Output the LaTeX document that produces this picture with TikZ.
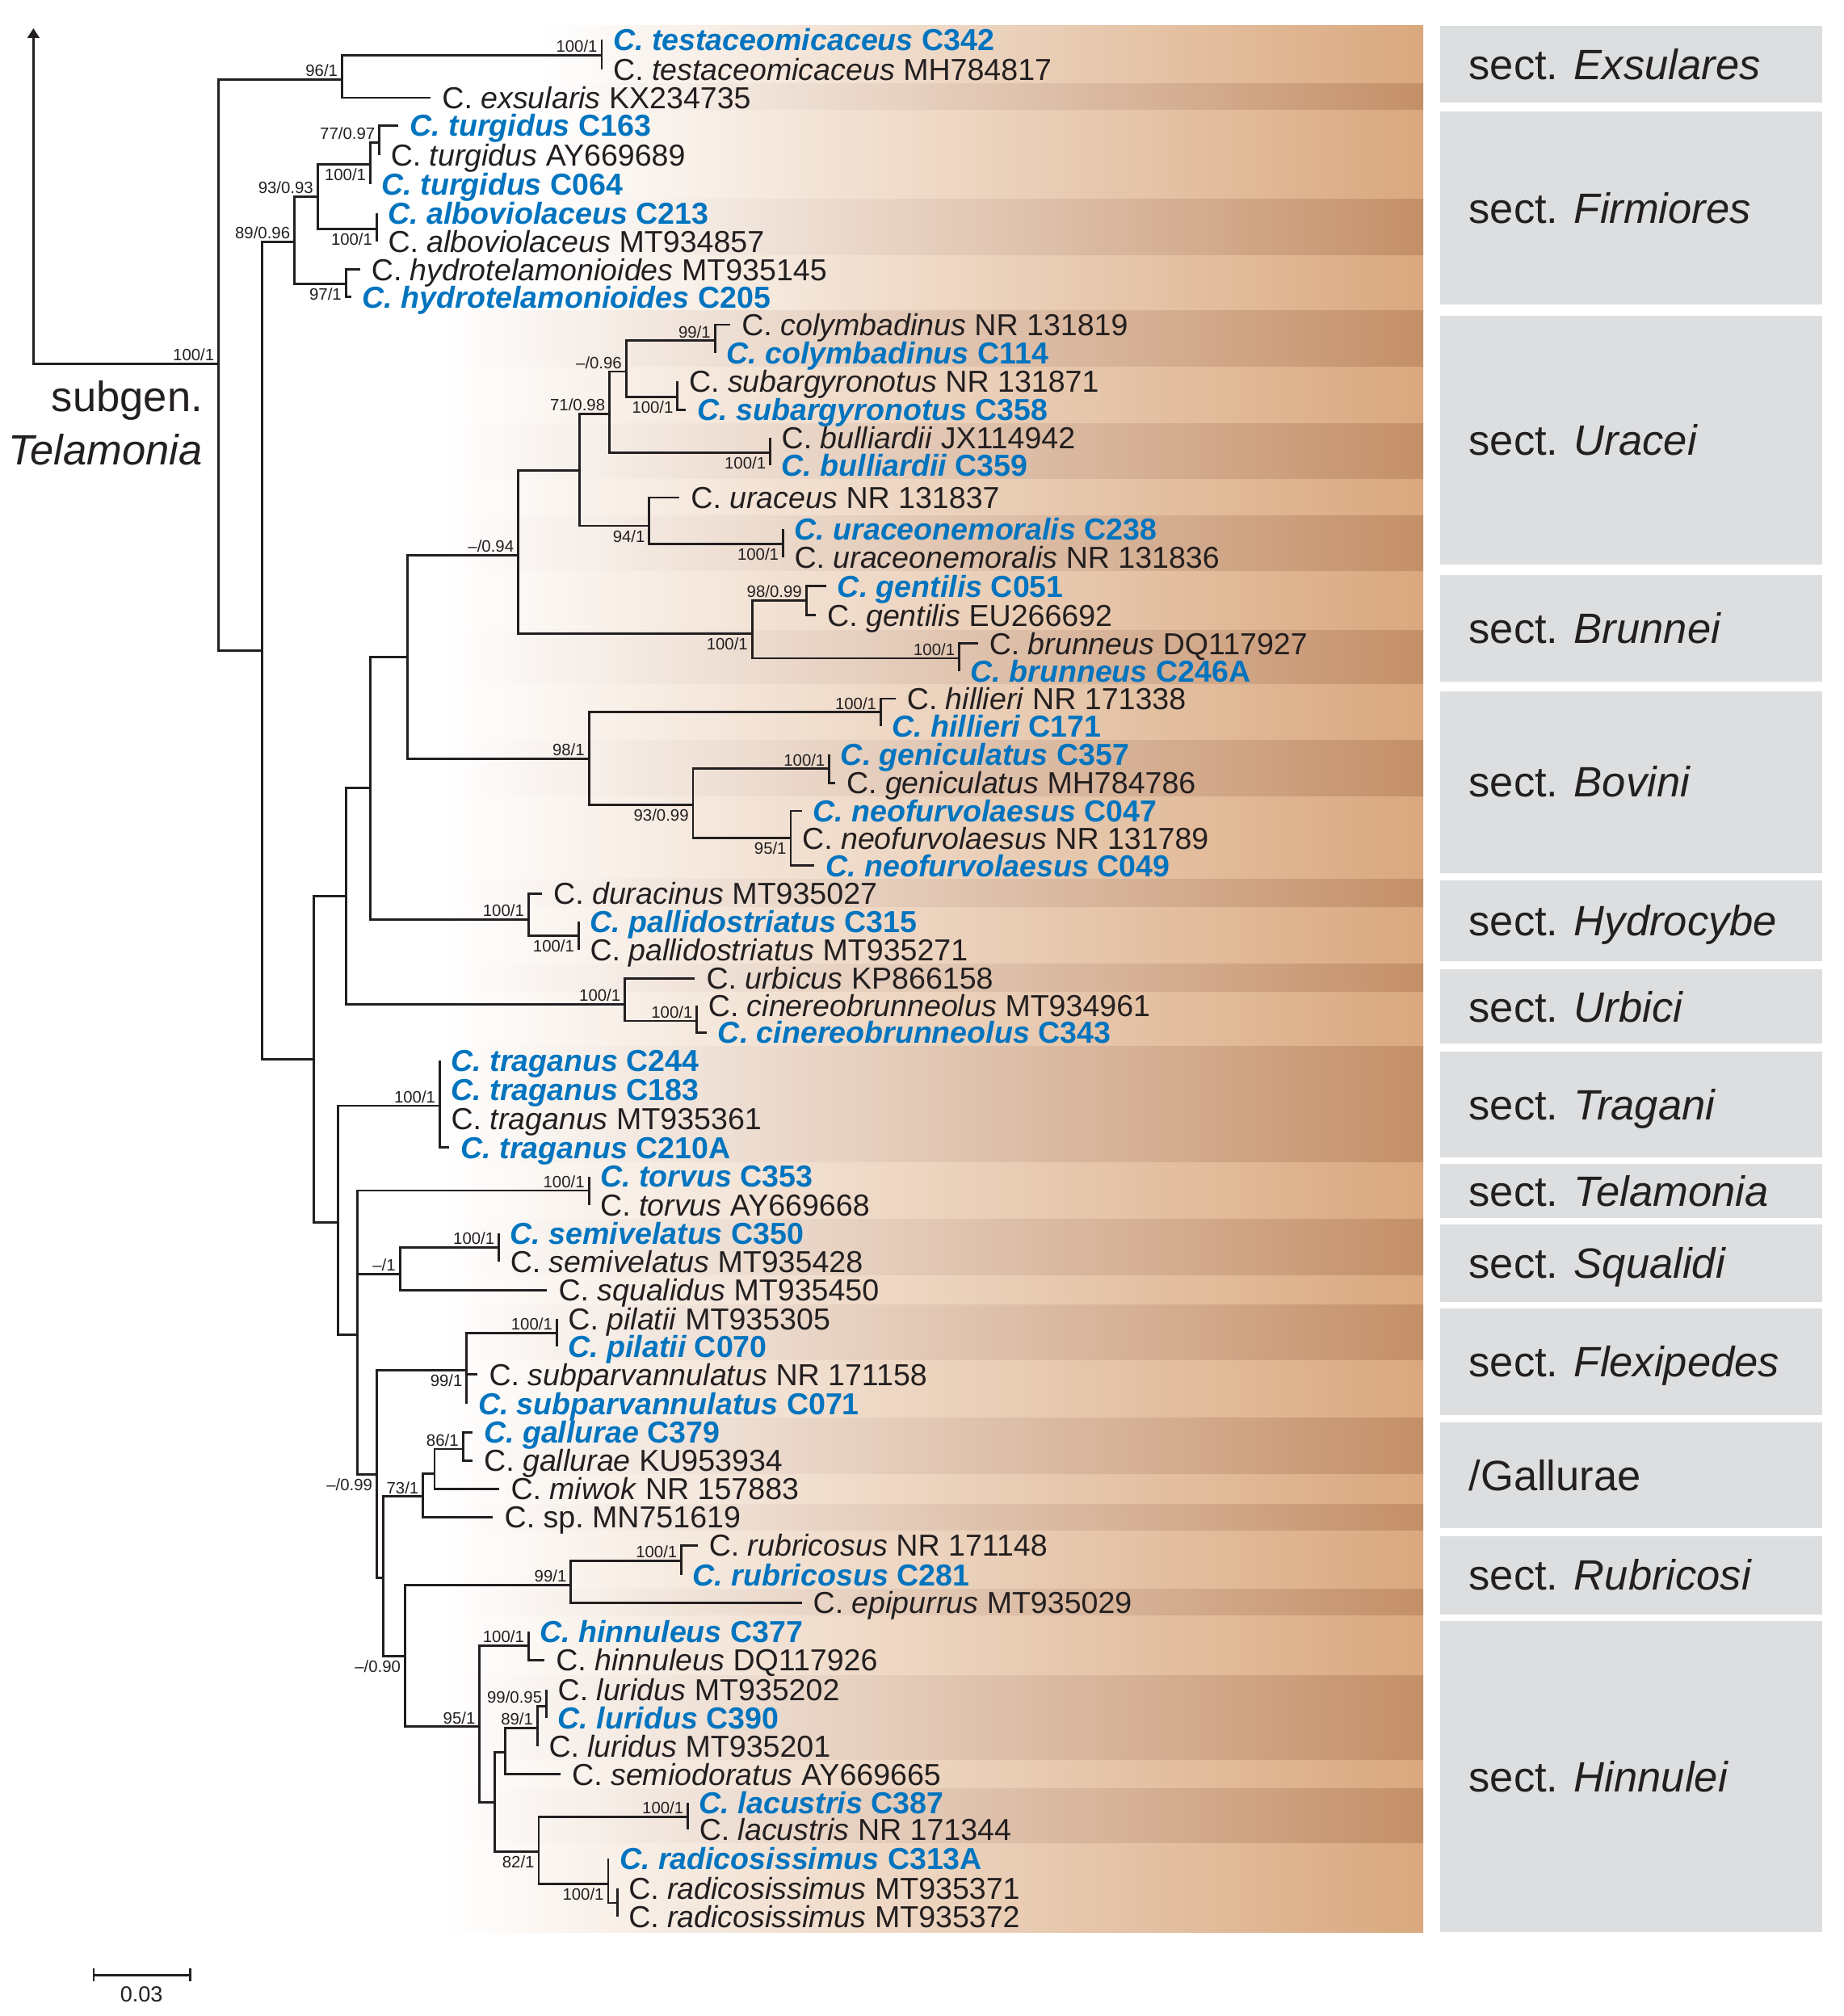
\documentclass[tikz,border=0pt]{standalone}
\usepackage{fontspec}
\setmainfont{Liberation Sans}
\usetikzlibrary{arrows.meta}

\definecolor{ink}{RGB}{35,31,32}
\definecolor{cblue}{RGB}{0,116,191}
\definecolor{bandL}{RGB}{217,168,126}
\definecolor{bandD}{RGB}{196,143,104}
\definecolor{secgray}{RGB}{220,222,224}

% own isolates (blue, bold) and GenBank sequences
\newcommand{\spB}[2]{\textcolor{cblue}{\bfseries\itshape C.~#1 \upshape #2}}
\newcommand{\spK}[2]{C.~\textit{#1} #2}

\tikzset{
  branch/.style={draw=ink, line width=0.9pt},
  tip/.style={anchor=west, inner xsep=4.25pt, inner ysep=0pt, text height=8.45pt, text depth=0pt,
    font=\fontsize{11.8}{13.5}\selectfont, text=ink},
  bsa/.style={anchor=south east, inner sep=0pt, xshift=-1.5pt, yshift=1pt,
    text height=4.6pt, text depth=0pt, font=\fontsize{6.4}{7}\selectfont, text=ink},
  bsb/.style={bsa, anchor=north east, yshift=-2.5pt},
  sect/.style={anchor=west, inner sep=0pt, text height=11.8pt, text depth=0pt,
    font=\fontsize{16.5}{19}\selectfont, text=ink},
}

\begin{document}
\begin{tikzpicture}[x=0.5pt, y=-0.5pt]
  \useasboundingbox (0,0) rectangle (1434,1568);

  % background bands, one per species
  \foreach \ya/\yb/\cc/\xa in {20/65/bandL/420, 65/86/bandD/420, 86/155/bandL/420,
      155/199/bandD/420, 199/241.5/bandL/420, 241.5/285.6/bandD/345, 285.6/329.7/bandL/345,
      329.7/373/bandD/345, 373/400.8/bandL/345, 400.8/444.4/bandD/345, 444.4/490/bandL/345,
      490/532.6/bandD/345, 532.6/576/bandL/345, 576/620/bandD/345, 620/684/bandL/345,
      684/706/bandD/345, 706/750/bandL/345, 750/771.5/bandD/345, 771.5/814/bandL/345,
      814/904/bandD/345, 904/948/bandL/345, 948/992/bandD/345, 992/1015/bandL/345,
      1015/1058/bandD/345, 1058/1103/bandL/345, 1103/1147/bandD/345, 1147/1170/bandL/345,
      1170/1191/bandD/345, 1191/1236/bandL/345, 1236/1257/bandD/345, 1257/1303/bandL/345,
      1303/1369/bandD/345, 1369/1391/bandL/345, 1391/1434/bandD/345, 1434/1503/bandL/345}
    \shade[left color=white, right color=\cc] (\xa,\ya) rectangle (1107,\yb);

  % section boxes
  \fill[secgray] (1120,20) rectangle (1417,80);
  \fill[secgray] (1120,87) rectangle (1417,237);
  \fill[secgray] (1120,245.5) rectangle (1417,439);
  \fill[secgray] (1120,447.4) rectangle (1417,530);
  \fill[secgray] (1120,537.6) rectangle (1417,679);
  \fill[secgray] (1120,685) rectangle (1417,747.5);
  \fill[secgray] (1120,754) rectangle (1417,811.7);
  \fill[secgray] (1120,817.7) rectangle (1417,900);
  \fill[secgray] (1120,905.5) rectangle (1417,947.5);
  \fill[secgray] (1120,952.5) rectangle (1417,1012.4);
  \fill[secgray] (1120,1017.4) rectangle (1417,1100.8);
  \fill[secgray] (1120,1106.3) rectangle (1417,1188.6);
  \fill[secgray] (1120,1194.6) rectangle (1417,1255.5);
  \fill[secgray] (1120,1260.5) rectangle (1417,1502.7);

  \node[sect] (exs) at (1142,50) {sect. \textit{Exsulares}};
  \node[sect] (fir) at (1142,162) {sect. \textit{Firmiores}};
  \node[sect] (ura) at (1142,342) {sect. \textit{Uracei}};
  \node[sect] (bru) at (1142,488.7) {sect. \textit{Brunnei}};
  \node[sect] (bov) at (1142,608) {sect. \textit{Bovini}};
  \node[sect] (hyd) at (1142,716) {sect. \textit{Hydrocybe}};
  \node[sect] (urb) at (1142,783) {sect. \textit{Urbici}};
  \node[sect] (tra) at (1142,859) {sect. \textit{Tragani}};
  \node[sect] (tel) at (1142,926.5) {sect. \textit{Telamonia}};
  \node[sect] (squ) at (1142,982.5) {sect. \textit{Squalidi}};
  \node[sect] (flx) at (1142,1059) {sect. \textit{Flexipedes}};
  \node[sect] (gal) at (1142,1147.5) {/Gallurae};
  \node[sect] (rub) at (1142,1225) {sect. \textit{Rubricosi}};
  \node[sect] (hin) at (1142,1381.6) {sect. \textit{Hinnulei}};

  % internal nodes
  \coordinate (root) at (26,283);
  \coordinate (rtop) at (26,22);
  \coordinate (nR) at (170,283);
  \coordinate (nEx) at (266,62);
  \coordinate (nTes) at (468,43);
  \coordinate (nA) at (204,506);
  \coordinate (nK) at (229,188);
  \coordinate (nL) at (247,153);
  \coordinate (nM) at (288,128);
  \coordinate (nN) at (295,111);
  \coordinate (nAl) at (293,178);
  \coordinate (nHy) at (269,221);
  \coordinate (nB) at (244,824);
  \coordinate (nC) at (269,697);
  \coordinate (nD) at (288,613);
  \coordinate (nE) at (317,511);
  \coordinate (nF) at (403,432);
  \coordinate (nG) at (451,366);
  \coordinate (nH) at (474,322);
  \coordinate (nI) at (487,289);
  \coordinate (nCol) at (556,265);
  \coordinate (nSub) at (527,309);
  \coordinate (nBul) at (599,352);
  \coordinate (nUra) at (505,409);
  \coordinate (nUn) at (609,423);
  \coordinate (nBru) at (585,493);
  \coordinate (nGen) at (627,467);
  \coordinate (nBrn) at (746,512);
  \coordinate (nBov) at (458,590);
  \coordinate (nHil) at (685,554);
  \coordinate (nJ) at (539,626);
  \coordinate (nGc) at (645,598);
  \coordinate (nNeo) at (615,652);
  \coordinate (nDur) at (411,715);
  \coordinate (nPal) at (450,728);
  \coordinate (nUrb) at (486,781);
  \coordinate (nCin) at (542,794);
  \coordinate (nO) at (263,951);
  \coordinate (nTra) at (342,860);
  \coordinate (nP) at (278,1038);
  \coordinate (nTor) at (458,926);
  \coordinate (nQ) at (311,991);
  \coordinate (nSem) at (388,970);
  \coordinate (nS) at (293,1147);
  \coordinate (nFlx) at (363,1066);
  \coordinate (nPil) at (433,1037);
  \coordinate (nW) at (298,1227);
  \coordinate (nGal) at (329,1164);
  \coordinate (nU) at (338,1146);
  \coordinate (nGa) at (360,1127);
  \coordinate (nT) at (315,1288);
  \coordinate (nRb2) at (444,1233);
  \coordinate (nRub) at (530,1214);
  \coordinate (nV) at (373,1343);
  \coordinate (nHin) at (411,1280);
  \coordinate (nX) at (385,1402);
  \coordinate (nY) at (393,1363);
  \coordinate (nZa) at (418,1344);
  \coordinate (nZb) at (425,1327);
  \coordinate (nAA) at (419,1440);
  \coordinate (nLac) at (535,1413);
  \coordinate (nRad) at (473,1465);
  \coordinate (nAB) at (480,1480);

  % taxa
  \node[tip] (t1) at (468,31) {\spB{testaceomicaceus}{C342}};
  \node[tip] (t2) at (468,54) {\spK{testaceomicaceus}{MH784817}};
  \node[tip] (t3) at (335,76) {\spK{exsularis}{KX234735}};
  \node[tip] (t4) at (310,97.5) {\spB{turgidus}{C163}};
  \node[tip] (t5) at (295,120.5) {\spK{turgidus}{AY669689}};
  \node[tip] (t6) at (288,143.5) {\spB{turgidus}{C064}};
  \node[tip] (t7) at (293,166) {\spB{alboviolaceus}{C213}};
  \node[tip] (t8) at (293,188) {\spK{alboviolaceus}{MT934857}};
  \node[tip] (t9) at (280,209.6) {\spK{hydrotelamonioides}{MT935145}};
  \node[tip] (t10) at (273,231) {\spB{hydrotelamonioides}{C205}};
  \node[tip] (t11) at (568,252.5) {\spK{colymbadinus}{NR 131819}};
  \node[tip] (t12) at (556,274.5) {\spB{colymbadinus}{C114}};
  \node[tip] (t13) at (527,296.6) {\spK{subargyronotus}{NR 131871}};
  \node[tip] (t14) at (533.5,318.7) {\spB{subargyronotus}{C358}};
  \node[tip] (t15) at (599,340.5) {\spK{bulliardii}{JX114942}};
  \node[tip] (t16) at (599,362) {\spB{bulliardii}{C359}};
  \node[tip] (t17) at (528.5,387) {\spK{uraceus}{NR 131837}};
  \node[tip] (t18) at (609,411.7) {\spB{uraceonemoralis}{C238}};
  \node[tip] (t19) at (609,433.5) {\spK{uraceonemoralis}{NR 131836}};
  \node[tip] (t20) at (642.5,455.8) {\spB{gentilis}{C051}};
  \node[tip] (t21) at (634.5,478.6) {\spK{gentilis}{EU266692}};
  \node[tip] (t22) at (760.5,500.6) {\spK{brunneus}{DQ117927}};
  \node[tip] (t23) at (746,521.8) {\spB{brunneus}{C246A}};
  \node[tip] (t24) at (696.5,543.4) {\spK{hillieri}{NR 171338}};
  \node[tip] (t25) at (685,565) {\spB{hillieri}{C171}};
  \node[tip] (t26) at (645,587) {\spB{geniculatus}{C357}};
  \node[tip] (t27) at (649.5,609) {\spK{geniculatus}{MH784786}};
  \node[tip] (t28) at (623.5,630.7) {\spB{neofurvolaesus}{C047}};
  \node[tip] (t29) at (615,652) {\spK{neofurvolaesus}{NR 131789}};
  \node[tip] (t30) at (633.5,673.3) {\spB{neofurvolaesus}{C049}};
  \node[tip] (t31) at (421.5,695) {\spK{duracinus}{MT935027}};
  \node[tip] (t32) at (450,717) {\spB{pallidostriatus}{C315}};
  \node[tip] (t33) at (450,739) {\spK{pallidostriatus}{MT935271}};
  \node[tip] (t34) at (540.5,761) {\spK{urbicus}{KP866158}};
  \node[tip] (t35) at (542,782) {\spK{cinereobrunneolus}{MT934961}};
  \node[tip] (t36) at (549.5,803) {\spB{cinereobrunneolus}{C343}};
  \node[tip] (t37) at (342,825) {\spB{traganus}{C244}};
  \node[tip] (t38) at (342,847.5) {\spB{traganus}{C183}};
  \node[tip] (t39) at (342,870) {\spK{traganus}{MT935361}};
  \node[tip] (t40) at (349.5,892.5) {\spB{traganus}{C210A}};
  \node[tip] (t41) at (458,915) {\spB{torvus}{C353}};
  \node[tip] (t42) at (458,937) {\spK{torvus}{AY669668}};
  \node[tip] (t43) at (388,959) {\spB{semivelatus}{C350}};
  \node[tip] (t44) at (388,981) {\spK{semivelatus}{MT935428}};
  \node[tip] (t45) at (425.5,1003.5) {\spK{squalidus}{MT935450}};
  \node[tip] (t46) at (433,1026) {\spK{pilatii}{MT935305}};
  \node[tip] (t47) at (433,1047) {\spB{pilatii}{C070}};
  \node[tip] (t48) at (371.5,1069) {\spK{subparvannulatus}{NR 171158}};
  \node[tip] (t49) at (363,1092) {\spB{subparvannulatus}{C071}};
  \node[tip] (t50) at (367.5,1114) {\spB{gallurae}{C379}};
  \node[tip] (t51) at (367.5,1136) {\spK{gallurae}{KU953934}};
  \node[tip] (t52) at (388.5,1158) {\spK{miwok}{NR 157883}};
  \node[tip] (t53) at (383.5,1180) {C.~sp.\ MN751619};
  \node[tip] (t54) at (542.5,1202) {\spK{rubricosus}{NR 171148}};
  \node[tip] (t55) at (530,1225) {\spB{rubricosus}{C281}};
  \node[tip] (t56) at (623.5,1246.5) {\spK{epipurrus}{MT935029}};
  \node[tip] (t57) at (411,1269) {\spB{hinnuleus}{C377}};
  \node[tip] (t58) at (423.5,1291) {\spK{hinnuleus}{DQ117926}};
  \node[tip] (t59) at (425,1314) {\spK{luridus}{MT935202}};
  \node[tip] (t60) at (425,1336) {\spB{luridus}{C390}};
  \node[tip] (t61) at (418,1358) {\spK{luridus}{MT935201}};
  \node[tip] (t62) at (436,1380) {\spK{semiodoratus}{AY669665}};
  \node[tip] (t63) at (535,1402) {\spB{lacustris}{C387}};
  \node[tip] (t64) at (535,1423) {\spK{lacustris}{NR 171344}};
  \node[tip] (t65) at (473,1445.5) {\spB{radicosissimus}{C313A}};
  \node[tip] (t66) at (480,1468.5) {\spK{radicosissimus}{MT935371}};
  \node[tip] (t67) at (480,1491) {\spK{radicosissimus}{MT935372}};

  % branches
  \begin{scope}[branch]
    \draw[{Triangle[length=3.7pt,width=4.5pt]}-] (rtop) -- (root) -- (nR);
    \draw (nR) |- (nEx) (nR) |- (nA);
    \draw (nEx) |- (nTes) (nEx) |- (t3.west);
    \draw (nTes) |- (t1.west) (nTes) |- (t2.west);
    \draw (nA) |- (nK) (nA) |- (nB);
    \draw (nK) |- (nL) (nK) |- (nHy);
    \draw (nL) |- (nM) (nL) |- (nAl);
    \draw (nM) |- (nN) (nM) |- (t6.west);
    \draw (nN) |- (t4.west) (nN) |- (t5.west);
    \draw (nAl) |- (t7.west) (nAl) |- (t8.west);
    \draw (nHy) |- (t9.west) (nHy) |- (t10.west);
    \draw (nB) |- (nC) (nB) |- (nO);
    \draw (nC) |- (nD) (nC) |- (nUrb);
    \draw (nD) |- (nE) (nD) |- (nDur);
    \draw (nE) |- (nF) (nE) |- (nBov);
    \draw (nF) |- (nG) (nF) |- (nBru);
    \draw (nG) |- (nH) (nG) |- (nUra);
    \draw (nH) |- (nI) (nH) |- (nBul);
    \draw (nI) |- (nCol) (nI) |- (nSub);
    \draw (nCol) |- (t11.west) (nCol) |- (t12.west);
    \draw (nSub) |- (t13.west) (nSub) |- (t14.west);
    \draw (nBul) |- (t15.west) (nBul) |- (t16.west);
    \draw (nUra) |- (t17.west) (nUra) |- (nUn);
    \draw (nUn) |- (t18.west) (nUn) |- (t19.west);
    \draw (nBru) |- (nGen) (nBru) |- (nBrn);
    \draw (nGen) |- (t20.west) (nGen) |- (t21.west);
    \draw (nBrn) |- (t22.west) (nBrn) |- (t23.west);
    \draw (nBov) |- (nHil) (nBov) |- (nJ);
    \draw (nHil) |- (t24.west) (nHil) |- (t25.west);
    \draw (nJ) |- (nGc) (nJ) |- (nNeo);
    \draw (nGc) |- (t26.west) (nGc) |- (t27.west);
    \draw (nNeo) |- (t28.west) (nNeo) |- (t29.west) (nNeo) |- (t30.west);
    \draw (nDur) |- (t31.west) (nDur) |- (nPal);
    \draw (nPal) |- (t32.west) (nPal) |- (t33.west);
    \draw (nUrb) |- (t34.west) (nUrb) |- (nCin);
    \draw (nCin) |- (t35.west) (nCin) |- (t36.west);
    \draw (nO) |- (nTra) (nO) |- (nP);
    \draw (nTra) |- (t37.west) (nTra) |- (t38.west) (nTra) |- (t39.west) (nTra) |- (t40.west);
    \draw (nP) |- (nTor) (nP) |- (nQ) (nP) |- (nS);
    \draw (nTor) |- (t41.west) (nTor) |- (t42.west);
    \draw (nQ) |- (nSem) (nQ) |- (t45.west);
    \draw (nSem) |- (t43.west) (nSem) |- (t44.west);
    \draw (nS) |- (nFlx) (nS) |- (nW);
    \draw (nFlx) |- (nPil) (nFlx) |- (t48.west) (nFlx) |- (t49.west);
    \draw (nPil) |- (t46.west) (nPil) |- (t47.west);
    \draw (nW) |- (nGal) (nW) |- (nT);
    \draw (nGal) |- (nU) (nGal) |- (t53.west);
    \draw (nU) |- (nGa) (nU) |- (t52.west);
    \draw (nGa) |- (t50.west) (nGa) |- (t51.west);
    \draw (nT) |- (nRb2) (nT) |- (nV);
    \draw (nRb2) |- (nRub) (nRb2) |- (t56.west);
    \draw (nRub) |- (t54.west) (nRub) |- (t55.west);
    \draw (nV) |- (nHin) (nV) |- (nX);
    \draw (nHin) |- (t57.west) (nHin) |- (t58.west);
    \draw (nX) |- (nY) (nX) |- (nAA);
    \draw (nY) |- (nZa) (nY) |- (t62.west);
    \draw (nZa) |- (nZb) (nZa) |- (t61.west);
    \draw (nZb) |- (t59.west) (nZb) |- (t60.west);
    \draw (nAA) |- (nLac) (nAA) |- (nRad);
    \draw (nLac) |- (t63.west) (nLac) |- (t64.west);
    \draw (nRad) |- (t65.west) (nRad) |- (nAB);
    \draw (nAB) |- (t66.west) (nAB) |- (t67.west);
  \end{scope}

  % support values (BS/PP)
  \node[bsa] (sR) at (nR) {100/1};
  \node[bsa] (sEx) at (nEx) {96/1};
  \node[bsa] (sTes) at (nTes) {100/1};
  \node[bsa] (sN) at (nN) {77/0.97};
  \node[bsa] (sL) at (nL) {93/0.93};
  \node[bsb] (sM) at (nM) {100/1};
  \node[bsa] (sK) at (nK) {89/0.96};
  \node[bsb] (sAl) at (nAl) {100/1};
  \node[bsb] (sHy) at (nHy) {97/1};
  \node[bsa] (sCol) at (nCol) {99/1};
  \node[bsa] (sI) at (nI) {\textendash/0.96};
  \node[bsa] (sH) at (nH) {71/0.98};
  \node[bsb] (sSub) at (nSub) {100/1};
  \node[bsb] (sBul) at (nBul) {100/1};
  \node[bsb] (sUra) at (nUra) {94/1};
  \node[bsb] (sUn) at (nUn) {100/1};
  \node[bsa] (sF) at (nF) {\textendash/0.94};
  \node[bsa] (sGen) at (nGen) {98/0.99};
  \node[bsb] (sBru) at (nBru) {100/1};
  \node[bsa] (sBrn) at (nBrn) {100/1};
  \node[bsa] (sHil) at (nHil) {100/1};
  \node[bsa] (sBov) at (nBov) {98/1};
  \node[bsa] (sGc) at (nGc) {100/1};
  \node[bsb] (sJ) at (nJ) {93/0.99};
  \node[bsb] (sNeo) at (nNeo) {95/1};
  \node[bsa] (sDur) at (nDur) {100/1};
  \node[bsb] (sPal) at (nPal) {100/1};
  \node[bsa] (sUrb) at (nUrb) {100/1};
  \node[bsa] (sCin) at (nCin) {100/1};
  \node[bsa] (sTra) at (nTra) {100/1};
  \node[bsa] (sTor) at (nTor) {100/1};
  \node[bsa] (sSem) at (nSem) {100/1};
  \node[bsa] (sQ) at (nQ) {\textendash/1};
  \node[bsa] (sPil) at (nPil) {100/1};
  \node[bsb] (sFlx) at (nFlx) {99/1};
  \node[bsa] (sGa) at (nGa) {86/1};
  \node[bsa] (sGal) at (nGal) {73/1};
  \node[bsb] (sS) at (nS) {\textendash/0.99};
  \node[bsa] (sRub) at (nRub) {100/1};
  \node[bsa] (sRb2) at (nRb2) {99/1};
  \node[bsa] (sHin) at (nHin) {100/1};
  \node[bsb] (sT) at (nT) {\textendash/0.90};
  \node[bsa] (sZb) at (nZb) {99/0.95};
  \node[bsa] (sZa) at (nZa) {89/1};
  \node[bsa] (sV) at (nV) {95/1};
  \node[bsa] (sLac) at (nLac) {100/1};
  \node[bsb] (sAA) at (nAA) {82/1};
  \node[bsb] (sRad) at (nRad) {100/1};

  % subgenus label
  \node[sect, anchor=east] (sg1) at (158,308) {subgen.};
  \node[sect, anchor=east] (sg2) at (158,350) {\textit{Telamonia}};

  % scale bar
  \coordinate (sbL) at (72,1536);
  \coordinate (sbR) at (149,1536);
  \draw[branch, {Bar[width=4.9pt]}-{Bar[width=4.9pt]}] (sbL) -- (sbR);
  \node[inner sep=0pt, text height=6.1pt, text depth=0pt, font=\fontsize{8.5}{10}\selectfont, text=ink]
    (sbT) at (110,1551) {0.03};
\end{tikzpicture}
\end{document}
